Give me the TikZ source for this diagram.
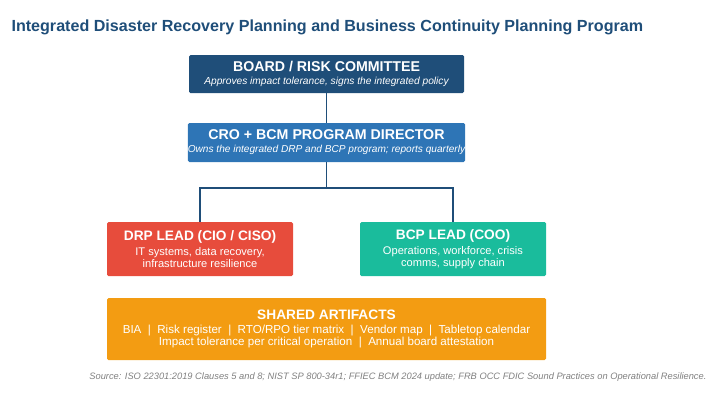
\documentclass[tikz,border=0pt]{standalone}
\usepackage{fontspec}
\setmainfont{Liberation Sans}
\usetikzlibrary{positioning}
\definecolor{boardblue}{HTML}{1F4E79}
\definecolor{croblue}{HTML}{2E75B6}
\definecolor{drpred}{HTML}{E74C3C}
\definecolor{bcpgreen}{HTML}{1ABC9C}
\definecolor{sharedorange}{HTML}{F39C12}
\definecolor{linkblue}{HTML}{1F4E79}
\begin{document}
\begin{tikzpicture}[x=1pt,y=-1pt,
		box/.style = {rounded corners=1.5pt, text=white, align=center, inner sep=0pt},
		link/.style = {draw=linkblue, line width=1.6pt}]
		\useasboundingbox (0,0) rectangle (719,400);
		\node[anchor=west, text=boardblue, font=\fontsize{16.1}{18}\selectfont\bfseries] (title) at (8,27) {Integrated Disaster Recovery Planning and Business Continuity Planning Program};
		\node[box, fill=boardblue, minimum width=275pt, minimum height=38pt] (board) at (326.5,74)
			{{\fontsize{14.2}{16}\selectfont\bfseries BOARD / RISK COMMITTEE}\\[1pt]{\fontsize{10.2}{12}\selectfont\itshape Approves impact tolerance, signs the integrated policy}};
		\node[box, fill=croblue, minimum width=275pt, minimum height=39pt] (cro) at (326.5,142.5)
			{{\fontsize{14.2}{16}\selectfont\bfseries CRO + BCM PROGRAM DIRECTOR}\\[1pt]{\fontsize{10.1}{12}\selectfont\itshape Owns the integrated DRP and BCP program; reports quarterly}};
		\node[box, fill=drpred, minimum width=186pt, minimum height=54pt] (drp) at (200,249)
			{{\fontsize{13.7}{16}\selectfont\bfseries DRP LEAD (CIO / CISO)}\\[3pt]{\fontsize{11.1}{11.5}\selectfont IT systems, data recovery,}\\{\fontsize{11.1}{11.5}\selectfont infrastructure resilience}};
		\node[box, fill=bcpgreen, minimum width=186pt, minimum height=54pt] (bcp) at (453,249)
			{{\fontsize{13.7}{16}\selectfont\bfseries BCP LEAD (COO)}\\[3pt]{\fontsize{11.1}{11.5}\selectfont Operations, workforce, crisis}\\{\fontsize{11.1}{11.5}\selectfont comms, supply chain}};
		\node[box, fill=sharedorange, minimum width=439pt, minimum height=62pt] (shared) at (326.5,329)
			{{\fontsize{13.7}{16}\selectfont\bfseries SHARED ARTIFACTS}\\[2pt]{\fontsize{11.6}{14.5}\selectfont BIA \ \textbar\ \ Risk register \ \textbar\ \ RTO/RPO tier matrix \ \textbar\ \ Vendor map \ \textbar\ \ Tabletop calendar}\\{\fontsize{11.6}{14.5}\selectfont Impact tolerance per critical operation \ \textbar\ \ Annual board attestation}};
		\node[anchor=east, text=gray, font=\fontsize{9.3}{11}\selectfont\itshape] (source) at (710,377) {Source: ISO 22301:2019 Clauses 5 and 8; NIST SP 800-34r1; FFIEC BCM 2024 update; FRB OCC FDIC Sound Practices on Operational Resilience.};
		\coordinate (fork) at (326.5,188);
		\draw[link] (board) -- (cro);
		\draw[link] (cro) -- (fork);
		\draw[link] (fork) -| (drp);
		\draw[link] (fork) -| (bcp);
\end{tikzpicture}
\end{document}
